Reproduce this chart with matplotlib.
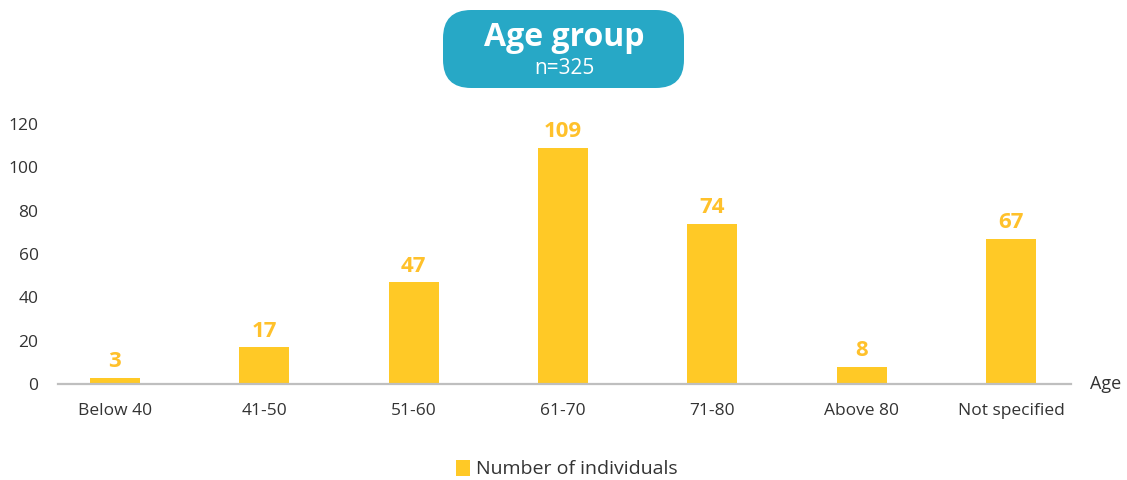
import matplotlib.pyplot as plt
from matplotlib.patches import FancyBboxPatch

categories = ['Below 40', '41-50', '51-60', '61-70', '71-80', 'Above 80', 'Not specified']
individuals = [3, 17, 47, 109, 74, 8, 67]
y_ticks = [0, 20, 40, 60, 80, 100, 120]

plt.rcParams['font.family'] = ['Open Sans', 'DejaVu Sans']

bar_color = '#FFC926'
label_color = '#FFC12B'
text_color = '#333333'

fig = plt.figure(figsize=(11.27, 4.8), dpi=100)
ax = fig.add_axes([58 / 1127, 96 / 480, (1071 - 58) / 1127, 260 / 480])

x = list(range(len(categories)))
ax.bar(x, individuals, width=0.335, color=bar_color, zorder=2, label='Number of individuals')

for xi, v in zip(x, individuals):
    ax.annotate(str(v), (xi, v), xytext=(0, 4), textcoords='offset points',
                ha='center', va='bottom', fontsize=16, fontweight='bold',
                color=label_color)

ax.set_xlim(-0.38, 6.4)
ax.set_ylim(0, 120)
ax.set_xticks(x)
ax.set_xticklabels(categories, fontsize=12.5, color=text_color)
ax.set_yticks(y_ticks)
ax.set_yticklabels([str(t) for t in y_ticks], fontsize=12.5, color=text_color)
ax.tick_params(axis='both', length=0)
ax.tick_params(axis='x', pad=14)
ax.tick_params(axis='y', pad=14)

for s in ['top', 'right', 'left']:
    ax.spines[s].set_visible(False)
ax.spines['bottom'].set_color('#BFBFBF')
ax.spines['bottom'].set_linewidth(1.6)

fig.text(1090 / 1127, 96 / 480, 'Age', fontsize=13, color=text_color, ha='left', va='center')

# title box
box = FancyBboxPatch((443 / 1127, (480 - 88) / 480), (684 - 443) / 1127, 78 / 480,
                     boxstyle='round,pad=0,rounding_size=0.025',
                     transform=fig.transFigure, facecolor='#27A8C6', edgecolor='none',
                     mutation_aspect=1127 / 480)
fig.patches.append(box)
fig.text(564 / 1127, (480 - 37) / 480, 'Age group', fontsize=23, fontweight='bold',
         color='white', ha='center', va='center')
fig.text(564 / 1127, (480 - 69) / 480, 'n=325', fontsize=15,
         color='white', ha='center', va='center')

fig.legend(loc='center', bbox_to_anchor=(567 / 1127, (480 - 469) / 480), frameon=False,
           fontsize=14, handlelength=0.7, handleheight=0.9, handletextpad=0.3,
           labelcolor=text_color)

fig.savefig('out.png', dpi=100)
